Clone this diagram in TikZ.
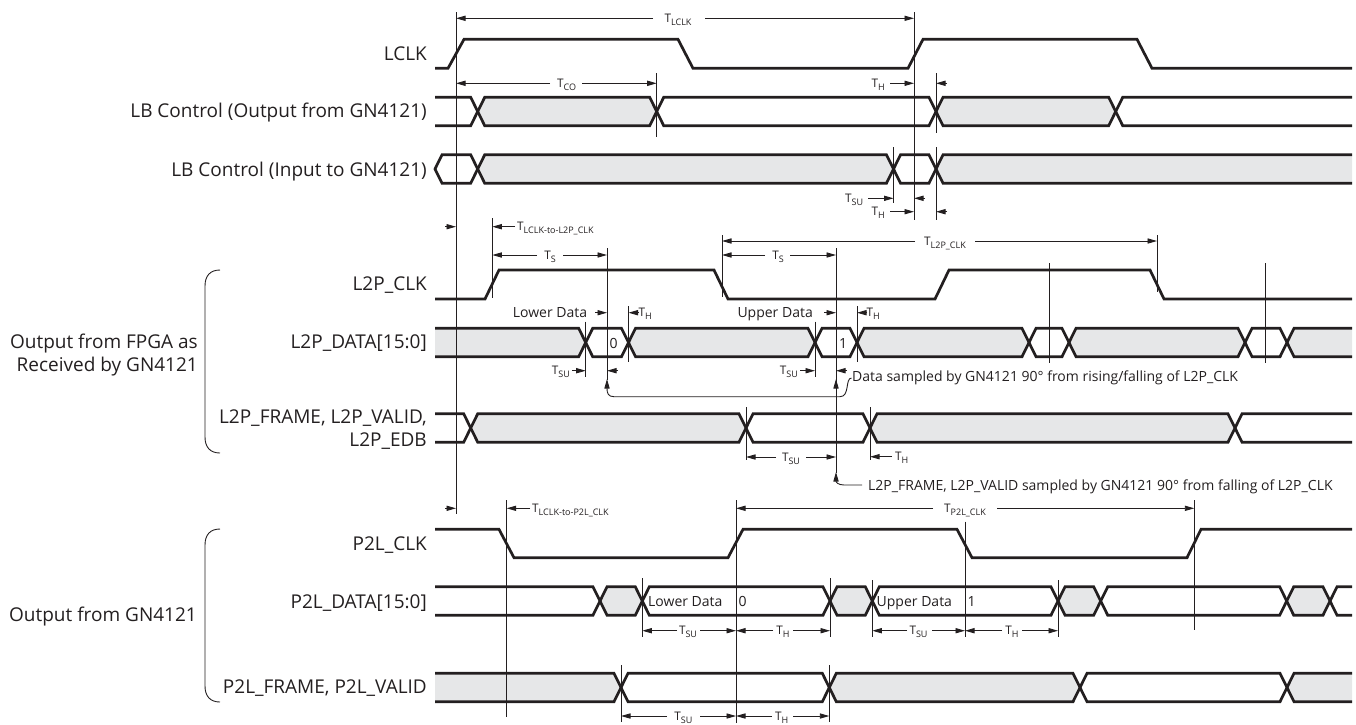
\documentclass[tikz,border=0pt]{standalone}
\usepackage{fontspec}
\setmainfont{Open Sans}
\usetikzlibrary{arrows.meta}
\definecolor{ink}{HTML}{231F20}
\definecolor{busgray}{HTML}{E6E7E8}
\pgfdeclarelayer{bg}
\pgfsetlayers{bg,main}
\newcommand{\Tl}[1]{{\fontsize{11.8}{12}\selectfont T\raisebox{-2.8pt}{\fontsize{9}{9}\selectfont #1}}}
% bus segment between two crossings
\newcommand{\sigseg}[4]{%
 \begin{pgfonlayer}{bg}\fill[fill=#4] (#1,#3) -- ({#1+7},{#3-14.2}) -- ({#2-7},{#3-14.2}) -- (#2,#3) -- ({#2-7},{#3+14.2}) -- ({#1+7},{#3+14.2}) -- cycle;\end{pgfonlayer}
 \draw[bus] (#1,#3) -- ({#1+7},{#3-14.2}) -- ({#2-7},{#3-14.2}) -- (#2,#3) -- ({#2-7},{#3+14.2}) -- ({#1+7},{#3+14.2}) -- cycle;}
\newcommand{\sigstart}[3]{%
 \begin{pgfonlayer}{bg}\fill[fill=#3] (435,{#2-14.2}) -- ({#1-7},{#2-14.2}) -- (#1,#2) -- ({#1-7},{#2+14.2}) -- (435,{#2+14.2}) -- cycle;\end{pgfonlayer}
 \draw[bus] (435,{#2-14.2}) -- ({#1-7},{#2-14.2}) -- (#1,#2) -- ({#1-7},{#2+14.2}) -- (435,{#2+14.2});}
\newcommand{\sigend}[3]{%
 \begin{pgfonlayer}{bg}\fill[fill=#3] (1352,{#2-14.2}) -- ({#1+7},{#2-14.2}) -- (#1,#2) -- ({#1+7},{#2+14.2}) -- (1352,{#2+14.2}) -- cycle;\end{pgfonlayer}
 \draw[bus] (1352,{#2-14.2}) -- ({#1+7},{#2-14.2}) -- (#1,#2) -- ({#1+7},{#2+14.2}) -- (1352,{#2+14.2});}
% two-sided dimension: x1 x2 y gapleft gapright labelx name sub
\newcommand{\dimb}[8]{%
 \draw[dim] (#4,#3) -- (#1,#3);
 \draw[dim] (#5,#3) -- (#2,#3);
 \node[tl] (#7) at (#6,{#3+4.2}) {\Tl{#8}};}
\begin{document}
\begin{tikzpicture}[x=1pt,y=-1pt,
 bus/.style={draw=ink,line width=2.7pt,line join=miter},
 clk/.style={draw=ink,line width=2.7pt,line join=miter},
 vl/.style={draw=ink,line width=0.9pt},
 dim/.style={draw=ink,line width=0.9pt,-{Triangle[length=9.5pt,width=5.2pt]}},
 lab/.style={font=\fontsize{19}{22}\selectfont,text=ink,inner sep=0pt,anchor=base east},
 sm/.style={font=\fontsize{14}{16}\selectfont,text=ink,inner sep=0pt},
 tl/.style={text=ink,inner sep=0pt,anchor=base}]
\useasboundingbox (0,0) rectangle (1356,724);

% ---------- signal names ----------
\node[lab] (nlclk) at (427,60.7) {LCLK};
\node[lab] (nlbo) at (427,117.7) {LB Control (Output from GN4121)};
\node[lab] (nlbi) at (427,176) {LB Control (Input to GN4121)};
\node[lab] (nl2pclk) at (427,290.7) {L2P\_CLK};
\node[lab] (nl2pdata) at (427,348.3) {L2P\_DATA[15:0]};
\node[lab] (nl2pfr1) at (427,423.3) {L2P\_FRAME, L2P\_VALID,};
\node[lab] (nl2pfr2) at (427,446) {L2P\_EDB};
\node[lab] (ngrp1a) at (198,348.3) {Output from FPGA as};
\node[lab] (ngrp1b) at (198,371) {Received by GN4121};
\node[lab] (np2lclk) at (427,550) {P2L\_CLK};
\node[lab] (np2ldata) at (427,608.3) {P2L\_DATA[15:0]};
\node[lab] (np2lfr) at (427,693.3) {P2L\_FRAME, P2L\_VALID};
\node[lab] (ngrp2) at (197,621.7) {Output from GN4121};

% brackets
\draw[vl] (220,270) .. controls (210,270) and (205,276) .. (205,286) -- (205,437) .. controls (205,447) and (210,453) .. (220,453);
\draw[vl] (220,529) .. controls (210,529) and (205,535) .. (205,545) -- (205,686) .. controls (205,696) and (210,702) .. (220,702);

% ---------- clocks ----------
\draw[clk] (435,68.3) -- (448,68.3) -- (464,39.3) -- (678,39.3) -- (693,68.3) -- (908,68.3) -- (923,39.3) -- (1137,39.3) -- (1152,68.3) -- (1352,68.3);
\draw[clk] (435,299) -- (485,299) -- (499,270) -- (714,270) -- (728,299) -- (935,299) -- (949,270) -- (1150,270) -- (1164,299) -- (1352,299);
\draw[clk] (435,529.3) -- (499,529.3) -- (514,557.7) -- (728,557.7) -- (743,529.3) -- (957,529.3) -- (972,557.7) -- (1187,557.7) -- (1201,529.3) -- (1352,529.3);

% ---------- buses ----------
% LB Control output
\sigstart{477.7}{111.5}{white}
\sigseg{477.7}{656.7}{111.5}{busgray}
\sigseg{656.7}{936}{111.5}{white}
\sigseg{936}{1115.7}{111.5}{busgray}
\sigend{1115.7}{111.5}{white}
% LB Control input
\sigseg{435}{477.7}{169}{white}
\sigseg{477.7}{893.5}{169}{busgray}
\sigseg{893.5}{936}{169}{white}
\sigend{936}{169}{busgray}
% L2P_DATA
\sigstart{585.7}{342.5}{busgray}
\sigseg{585.7}{628.5}{342.5}{white}
\sigseg{628.5}{815}{342.5}{busgray}
\sigseg{815}{857}{342.5}{white}
\sigseg{857}{1029}{342.5}{busgray}
\sigseg{1029}{1069}{342.5}{white}
\sigseg{1069}{1245}{342.5}{busgray}
\sigseg{1245}{1287}{342.5}{white}
\sigend{1287}{342.5}{busgray}
% L2P_FRAME
\sigstart{470.7}{428}{white}
\sigseg{470.7}{746}{428}{busgray}
\sigseg{746}{870}{428}{white}
\sigseg{870}{1235}{428}{busgray}
\sigend{1235}{428}{white}
% P2L_DATA
\sigstart{600}{601}{white}
\sigseg{600}{642.3}{601}{busgray}
\sigseg{642.3}{830}{601}{white}
\sigseg{830}{872.3}{601}{busgray}
\sigseg{872.3}{1058}{601}{white}
\sigseg{1058}{1100.7}{601}{busgray}
\sigseg{1100.7}{1286.7}{601}{white}
\sigseg{1286.7}{1330}{601}{busgray}
\sigend{1330}{601}{white}
% P2L_FRAME
\sigstart{621}{687.5}{busgray}
\sigseg{621}{829.3}{687.5}{white}
\sigseg{829.3}{1080}{687.5}{busgray}
\sigseg{1080}{1287}{687.5}{white}
\sigend{1287}{687.5}{busgray}

% data texts in buses
\node[sm,anchor=base west] (d0) at (609.5,348.3) {0};
\node[sm,anchor=base west] (d1) at (839,348.3) {1};
\node[sm,anchor=base west] (plow) at (648,606.7) {Lower Data};
\node[sm,anchor=base west] (p0) at (738.5,606.7) {0};
\node[sm,anchor=base west] (pup) at (876.5,606.7) {Upper Data};
\node[sm,anchor=base west] (p1) at (967.5,606.7) {1};

% ---------- vertical reference lines ----------
\draw[vl] (456,12) -- (456,514);
\draw[vl] (914,12) -- (914,220);
\draw[vl] (656.7,73) -- (656.7,137);
\draw[vl] (936,73) -- (936,133);
\draw[vl] (936,147) -- (936,220);
\draw[vl] (893.5,147) -- (893.5,203);
\draw[vl] (492.3,218) -- (492.3,298);
\draw[vl] (607,248) -- (607,380);
\draw[vl] (585.7,321.7) -- (585.7,377);
\draw[vl] (628.5,306) -- (628.5,361.7);
\draw[vl] (815,321.7) -- (815,377);
\draw[vl] (857,306) -- (857,361.7);
\draw[vl] (722,235) -- (722,297);
\draw[vl] (1157,235) -- (1157,292);
\draw[vl] (836,248) -- (836,473);
\draw[vl] (1049,263) -- (1049,363);
\draw[vl] (1265,263) -- (1265,363);
\draw[vl] (746,407) -- (746,460);
\draw[vl] (870,407) -- (870,460);
\draw[vl] (506.7,500) -- (506.7,717);
\draw[vl] (736,500) -- (736,723);
\draw[vl] (1194.3,500) -- (1194.3,630);
\draw[vl] (965,521.7) -- (965,636.7);
\draw[vl] (642.3,578) -- (642.3,637);
\draw[vl] (830,578) -- (830,637);
\draw[vl] (872.3,580) -- (872.3,637);
\draw[vl] (1058,580) -- (1058,637);
\draw[vl] (621,665) -- (621,722);
\draw[vl] (829.3,665) -- (829.3,722);

% ---------- dimensions ----------
\dimb{456}{914}{18.3}{653}{705}{678}{tlclk}{LCLK}
\dimb{456}{656.7}{83.3}{550}{582}{566.7}{tco}{CO}
\dimb{492.3}{607}{255}{537}{563}{550}{ts1}{S}
\dimb{722}{836}{255}{765}{790}{778}{ts2}{S}
\dimb{722}{1157}{241}{915}{975}{945}{tl2p}{L2P\_CLK}
\dimb{746}{836}{457}{776}{806}{791}{tsufr}{SU}
\dimb{736}{1194.3}{508.3}{933}{997}{965}{tp2l}{P2L\_CLK}
\dimb{642.3}{736}{630.7}{677}{700}{688}{tsud1}{SU}
\dimb{736}{830}{630.7}{773}{793}{783}{thd1}{H}
\dimb{872.3}{965}{630.7}{907}{932}{918.5}{tsud2}{SU}
\dimb{965}{1058}{630.7}{1002}{1022}{1012}{thd2}{H}
\dimb{621}{736}{716}{667}{700}{683.3}{tsuf2}{SU}
\dimb{736}{829.3}{716}{772}{793}{781.7}{thf2}{H}

% one-sided arrows with labels
\node[tl,anchor=base east] (th1) at (885,87.5) {\Tl{H}};
\draw[dim] (890,83.3) -- (914,83.3);
\draw[dim] (947,83.3) -- (936,83.3);
\node[tl,anchor=base east] (tsu1) at (863.3,202.5) {\Tl{SU}};
\draw[dim] (868,198.3) -- (893.5,198.3);
\draw[dim] (925,198.3) -- (914,198.3);
\node[tl,anchor=base east] (th2) at (885,215.9) {\Tl{H}};
\draw[dim] (890,211.7) -- (914,211.7);
\draw[dim] (947,211.7) -- (936,211.7);

\draw[dim] (445,226.7) -- (456,226.7);
\draw[dim] (515,226.7) -- (492.3,226.7);
\node[tl,anchor=base west] (tl2pdel) at (517,230.9) {\Tl{LCLK-to-L2P\_CLK}};
\draw[dim] (445,508.3) -- (456,508.3);
\draw[dim] (530,508.3) -- (506.7,508.3);
\node[tl,anchor=base west] (tp2ldel) at (532,512.5) {\Tl{LCLK-to-P2L\_CLK}};

\node[sm,anchor=base east] (lowd) at (587.3,317.3) {Lower Data};
\draw[dim] (595,312.7) -- (607,312.7);
\draw[dim] (639,312.7) -- (628.5,312.7);
\node[tl,anchor=base west] (th3) at (638.5,316.9) {\Tl{H}};
\node[sm,anchor=base east] (upd) at (813,317.3) {Upper Data};
\draw[dim] (824,312.7) -- (836,312.7);
\draw[dim] (867,312.7) -- (857,312.7);
\node[tl,anchor=base west] (th4) at (866.5,316.9) {\Tl{H}};

\node[tl,anchor=base east] (tsu3) at (570,374.9) {\Tl{SU}};
\draw[dim] (572,370.7) -- (585.7,370.7);
\draw[dim] (618,370.7) -- (607,370.7);
\node[tl,anchor=base east] (tsu4) at (798,374.9) {\Tl{SU}};
\draw[dim] (800,370.7) -- (815,370.7);
\draw[dim] (847,370.7) -- (836,370.7);

\draw[dim] (892,456.7) -- (870,456.7);
\node[tl,anchor=base west] (th5) at (895,460.9) {\Tl{H}};

% ---------- sampling notes ----------
\node[sm,anchor=base west] (dsamp) at (852,381.7) {Data sampled by GN4121 90° from rising/falling of L2P\_CLK};
\draw[dim] ([xshift=-0.5pt]dsamp.west) .. controls (845,378) and (850,396.7) .. (840,396.7) -- (614,396.7) .. controls (608,396.7) and (607,393) .. (607,379);
\draw[dim] (836,393) -- (836,379);
\node[sm,anchor=base west] (fsamp) at (868,490) {L2P\_FRAME, L2P\_VALID sampled by GN4121 90° from falling of L2P\_CLK};
\draw[dim] ([xshift=-6pt]fsamp.west |- 0,485) -- (844,485) .. controls (838,485) and (836,482) .. (836,472);
\end{tikzpicture}
\end{document}
